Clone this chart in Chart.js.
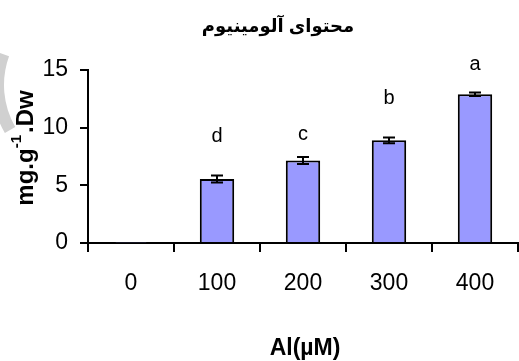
<!DOCTYPE html>
<html>
<head>
<meta charset="utf-8">
<script src="https://cdn.jsdelivr.net/npm/chart.js@4/dist/chart.umd.min.js"></script>
<style>
  html, body { margin: 0; padding: 0; background: #fff; }
  #wrap { width: 519px; height: 361px; position: relative; }
</style>
</head>
<body>
<div id="wrap"><canvas id="alChart"></canvas></div>
<script>
const FONT = "Arial, 'Liberation Sans', sans-serif";

const categories = ['0', '100', '200', '300', '400'];
const values     = [0.05, 5.55, 7.15, 8.9, 12.9];
const errors     = [0, 0.3, 0.3, 0.25, 0.15];
const letters    = ['', 'd', 'c', 'b', 'a'];
const letterAt   = [0, 9.2, 9.45, 12.5, 15.5];   // y value of letter centre
const yTicks     = [0, 5, 10, 15];

const titleText = 'محتوای آلومینیوم';
const xTitle = 'Al(µM)';

const errorBars = {
  id: 'errorBars',
  afterDatasetsDraw(chart) {
    const { ctx, scales: { y } } = chart;
    const meta = chart.getDatasetMeta(0);
    ctx.save();
    ctx.strokeStyle = '#000';
    ctx.lineWidth = 2;
    meta.data.forEach((bar, i) => {
      if (!errors[i]) return;
      const yt = y.getPixelForValue(values[i] + errors[i]);
      const yb = y.getPixelForValue(values[i] - errors[i]);
      ctx.beginPath();
      ctx.moveTo(bar.x, yt); ctx.lineTo(bar.x, yb);
      ctx.moveTo(bar.x - 6, yt); ctx.lineTo(bar.x + 6, yt);
      ctx.moveTo(bar.x - 6, yb); ctx.lineTo(bar.x + 6, yb);
      ctx.stroke();
    });
    // significance letters
    ctx.fillStyle = '#000';
    ctx.font = '20px ' + FONT;
    ctx.textAlign = 'center';
    ctx.textBaseline = 'middle';
    meta.data.forEach((bar, i) => {
      if (letters[i]) ctx.fillText(letters[i], bar.x, y.getPixelForValue(letterAt[i]));
    });
    ctx.restore();
  }
};

const titles = {
  id: 'titles',
  beforeDraw(chart) {
    // faint watermark arc on the left edge
    const { ctx } = chart;
    ctx.save();
    ctx.strokeStyle = '#d0d0d0';
    ctx.lineWidth = 12;
    ctx.beginPath();
    ctx.arc(88, 85, 90, 150 * Math.PI / 180, 200 * Math.PI / 180);
    ctx.stroke();
    ctx.restore();
  },
  afterDraw(chart) {
    const { ctx } = chart;
    ctx.save();
    ctx.fillStyle = '#000';
    ctx.textBaseline = 'middle';
    ctx.textAlign = 'center';
    ctx.font = "bold 18px Arial, 'DejaVu Sans', sans-serif";
    ctx.fillText(titleText, 278, 27);
    ctx.font = 'bold 23px ' + FONT;
    ctx.fillText(xTitle, 305, 349);

    // rotated y title with superscript
    ctx.translate(26, 148);
    ctx.rotate(-Math.PI / 2);
    ctx.textAlign = 'left';
    const p1 = 'mg.g', sup = '-1', p2 = '.Dw';
    ctx.font = 'bold 24px ' + FONT;
    const w1 = ctx.measureText(p1).width;
    const w3 = ctx.measureText(p2).width;
    ctx.font = 'bold 15px ' + FONT;
    const w2 = ctx.measureText(sup).width + 2;
    let x = -(w1 + w2 + w3) / 2;
    ctx.font = 'bold 24px ' + FONT;
    ctx.fillText(p1, x, 0);
    x += w1;
    ctx.font = 'bold 15px ' + FONT;
    ctx.fillText(sup, x, -9);
    x += w2;
    ctx.font = 'bold 24px ' + FONT;
    ctx.fillText(p2, x, 0);
    ctx.restore();
  }
};

new Chart(document.getElementById('alChart'), {
  type: 'bar',
  data: {
    labels: categories,
    datasets: [{
      data: values,
      backgroundColor: '#9999FF',
      borderColor: '#000',
      borderWidth: 2,
      borderSkipped: 'bottom',
      barPercentage: 0.8,
      categoryPercentage: 0.5
    }]
  },
  options: {
    responsive: true,
    maintainAspectRatio: false,
    animation: false,
    layout: { padding: { left: 0, right: 1, top: 70, bottom: 0 } },
    plugins: { legend: { display: false }, tooltip: { enabled: false } },
    scales: {
      x: {
        afterFit: s => { s.height = 118; },
        grid: { offset: true, drawOnChartArea: false, color: '#000', lineWidth: 2, tickLength: 9 },
        border: { color: '#000', width: 2 },
        ticks: { font: { family: FONT, size: 23 }, color: '#000', padding: 18 }
      },
      y: {
        min: 0, max: 15,
        afterFit: s => { s.width = 88; },
        afterBuildTicks: s => { s.ticks = yTicks.map(v => ({ value: v })); },
        grid: { drawOnChartArea: false, color: '#000', lineWidth: 2, tickLength: 8 },
        border: { color: '#000', width: 2 },
        ticks: { font: { family: FONT, size: 23 }, color: '#000', padding: 12 }
      }
    }
  },
  plugins: [errorBars, titles]
});
</script>
</body>
</html>
